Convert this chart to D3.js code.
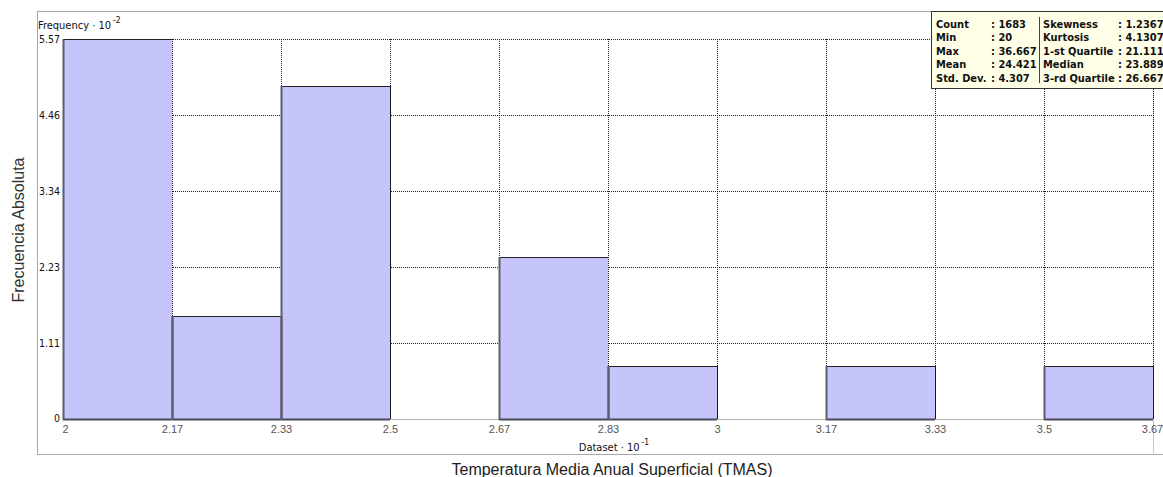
<!DOCTYPE html>
<html><head><meta charset="utf-8">
<script src="https://cdn.jsdelivr.net/npm/d3@7"></script>
<style>body{margin:0;background:#fff}svg{display:block}</style>
</head><body>
<script>
// ---- data ----
const binEdges = [2, 2.1667, 2.3333, 2.5, 2.6667, 2.8333, 3, 3.1667, 3.3333, 3.5, 3.6667];
const frequencies = [5.57, 1.51, 4.88, 0, 2.37, 0.78, 0, 0.78, 0, 0.78];
const xTickLabels = ["2", "2.17", "2.33", "2.5", "2.67", "2.83", "3", "3.17", "3.33", "3.5", "3.67"];
const yTickValues = [0, 1.11, 2.23, 3.34, 4.46, 5.57];
const yTickLabels = ["0", "1.11", "2.23", "3.34", "4.46", "5.57"];
const statsLeftNames = ["Count", "Min", "Max", "Mean", "Std. Dev."];
const statsLeftValues = ["1683", "20", "36.667", "24.421", "4.307"];
const statsRightNames = ["Skewness", "Kurtosis", "1-st Quartile", "Median", "3-rd Quartile"];
const statsRightValues = ["1.2367", "4.1307", "21.111", "23.889", "26.667"];

const W = 1163, H = 477;
const svg = d3.select("body").append("svg").attr("width", W).attr("height", H);

const x = d3.scaleLinear().domain([2, 3.6667]).range([63, 1153]);
const y = d3.scaleLinear().domain([0, 5.57]).range([419, 39]);
const px = v => Math.round(x(v));
const py = v => Math.round(y(v));

const tahoma = "'DejaVu Sans Condensed', 'DejaVu Sans', sans-serif";
const arial = "'Liberation Sans', Arial, sans-serif";

// panel borders
const border = "#a8a8a8";
svg.append("line").attr("x1", 37.5).attr("x2", 37.5).attr("y1", 11).attr("y2", 455).attr("stroke", border);
svg.append("line").attr("x1", 37).attr("x2", W).attr("y1", 11.5).attr("y2", 11.5).attr("stroke", border);
svg.append("line").attr("x1", 37).attr("x2", W).attr("y1", 454.5).attr("y2", 454.5).attr("stroke", border);
svg.append("line").attr("x1", 1153.5).attr("x2", 1153.5).attr("y1", 11).attr("y2", 455).attr("stroke", "#c8c8c8");

// grid
const grid = svg.append("g");
grid.selectAll("line.v").data(binEdges).join("line")
  .attr("x1", d => px(d) + 0.5).attr("x2", d => px(d) + 0.5)
  .attr("y1", py(5.57)).attr("y2", py(0))
  .attr("stroke", "#222").attr("stroke-dasharray", "1,1");
grid.selectAll("line.h").data(yTickValues.slice(1)).join("line")
  .attr("x1", px(2)).attr("x2", px(3.6667))
  .attr("y1", d => py(d) + 0.5).attr("y2", d => py(d) + 0.5)
  .attr("stroke", "#222").attr("stroke-dasharray", "1,1");

// x baseline
svg.append("line").attr("x1", px(2)).attr("x2", 1153).attr("y1", py(0) + 0.5).attr("y2", py(0) + 0.5)
  .attr("stroke", "#b0b0b0");

// bars
const bins = frequencies.map((f, i) => ({ x0: binEdges[i], x1: binEdges[i + 1], f }));
const barData = bins.filter(b => b.f > 0);
const bars = svg.append("g");
bars.selectAll("rect").data(barData).join("rect")
  .attr("x", d => px(d.x0)).attr("width", d => px(d.x1) - px(d.x0))
  .attr("y", d => py(d.f)).attr("height", d => py(0) - py(d.f) + 1)
  .attr("fill", "#c5c5fb");
// top edges
bars.selectAll("line.top").data(barData).join("line")
  .attr("x1", d => px(d.x0)).attr("x2", d => px(d.x1))
  .attr("y1", d => py(d.f) + 0.5).attr("y2", d => py(d.f) + 0.5)
  .attr("stroke", "#222").attr("stroke-width", 1);
// bottom edges
bars.selectAll("line.bot").data(barData).join("line")
  .attr("x1", d => px(d.x0)).attr("x2", d => px(d.x1))
  .attr("y1", py(0) + 0.5).attr("y2", py(0) + 0.5)
  .attr("stroke", "#4a4a5a").attr("stroke-width", 2);
// left edges
bars.selectAll("line.left").data(barData).join("line")
  .attr("x1", d => px(d.x0) + 0.5).attr("x2", d => px(d.x0) + 0.5)
  .attr("y1", d => py(d.f)).attr("y2", py(0) + 1)
  .attr("stroke", "#5c5c70").attr("stroke-width", 2);
// right edges (dotted where not shared)
bars.selectAll("line.right").data(barData).join("line")
  .attr("x1", d => px(d.x1) + 0.5).attr("x2", d => px(d.x1) + 0.5)
  .attr("y1", d => py(d.f)).attr("y2", py(0) + 1)
  .attr("stroke", "#111").attr("stroke-dasharray", "1,1");
// shared boundaries solid
const shared = barData.filter(b => barData.some(o => o.x0 === b.x1));
bars.selectAll("line.shared").data(shared).join("line")
  .attr("x1", d => px(d.x1) + 0.5).attr("x2", d => px(d.x1) + 0.5)
  .attr("y1", d => py(Math.min(d.f, frequencies[binEdges.indexOf(d.x1)]))).attr("y2", py(0) + 1)
  .attr("stroke", "#5c5c70").attr("stroke-width", 2);

// x axis
const xAxis = d3.axisBottom(x).tickValues(binEdges).tickSize(0).tickPadding(0)
  .tickFormat((d, i) => xTickLabels[i]);
const gx = svg.append("g").attr("transform", `translate(0,${py(0) + 6})`).call(xAxis);
gx.select(".domain").remove();
gx.selectAll("text").attr("font-family", arial).attr("font-size", 11).attr("fill", "#555")
  .attr("dy", "0.71em");
gx.selectAll("text").filter((d, i) => i === 0).attr("text-anchor", "start").attr("dx", -1);
gx.selectAll("text").filter((d, i) => i === binEdges.length - 1).attr("dx", -1);

// y axis
const yAxis = d3.axisLeft(y).tickValues(yTickValues).tickSize(0).tickPadding(3)
  .tickFormat((d, i) => yTickLabels[i]);
const gy = svg.append("g").attr("transform", `translate(${px(2)},0)`).call(yAxis);
gy.select(".domain").remove();
gy.selectAll("text").attr("font-family", tahoma).attr("font-size", 10.5).attr("fill", "#111");
gy.selectAll("text").filter((d, i) => i === 0).attr("dy", "0.2em");

// frequency label
const ft = svg.append("text").attr("x", 38).attr("y", 29).attr("font-family", tahoma)
  .attr("font-size", 11).attr("fill", "#111");
ft.append("tspan").text("Frequency \u00b7 10");
ft.append("tspan").attr("dx", 2).attr("dy", -6).attr("font-size", 8.5).text("-2");

// dataset label
const dt = svg.append("text").attr("x", 614).attr("y", 451).attr("text-anchor", "middle")
  .attr("font-family", tahoma).attr("font-size", 11).attr("fill", "#111");
dt.append("tspan").text("Dataset \u00b7 10");
dt.append("tspan").attr("dx", 2).attr("dy", -6).attr("font-size", 8.5).text("-1");

// axis titles
svg.append("text").attr("x", 612).attr("y", 475).attr("text-anchor", "middle")
  .attr("font-family", arial).attr("font-size", 16).attr("fill", "#222")
  .text("Temperatura Media Anual Superficial (TMAS)");
svg.append("text").attr("transform", "translate(24,230) rotate(-90)").attr("text-anchor", "middle")
  .attr("font-family", arial).attr("font-size", 16).attr("fill", "#333")
  .text("Frecuencia Absoluta");

// stats box
const sb = svg.append("g");
sb.append("rect").attr("x", 931.5).attr("y", 11.5).attr("width", 240).attr("height", 77)
  .attr("fill", "#ffffe8").attr("stroke", "#333");
sb.append("line").attr("x1", 1039.5).attr("x2", 1039.5).attr("y1", 17).attr("y2", 83)
  .attr("stroke", "#444");
const rowY = i => 28 + i * 13.4;
const st = { "font-family": tahoma, "font-size": 11, "font-weight": "bold", "fill": "#111" };
function addCol(names, vals, xName, xColon) {
  names.forEach((n, i) => {
    const t = sb.append("text").attr("x", xName).attr("y", rowY(i)).text(n);
    const v = sb.append("text").attr("x", xColon).attr("y", rowY(i)).text(": " + vals[i]);
    for (const k in st) { t.attr(k, st[k]); v.attr(k, st[k]); }
  });
}
addCol(statsLeftNames, statsLeftValues, 936, 991);
addCol(statsRightNames, statsRightValues, 1043, 1118);
</script>
</body></html>
